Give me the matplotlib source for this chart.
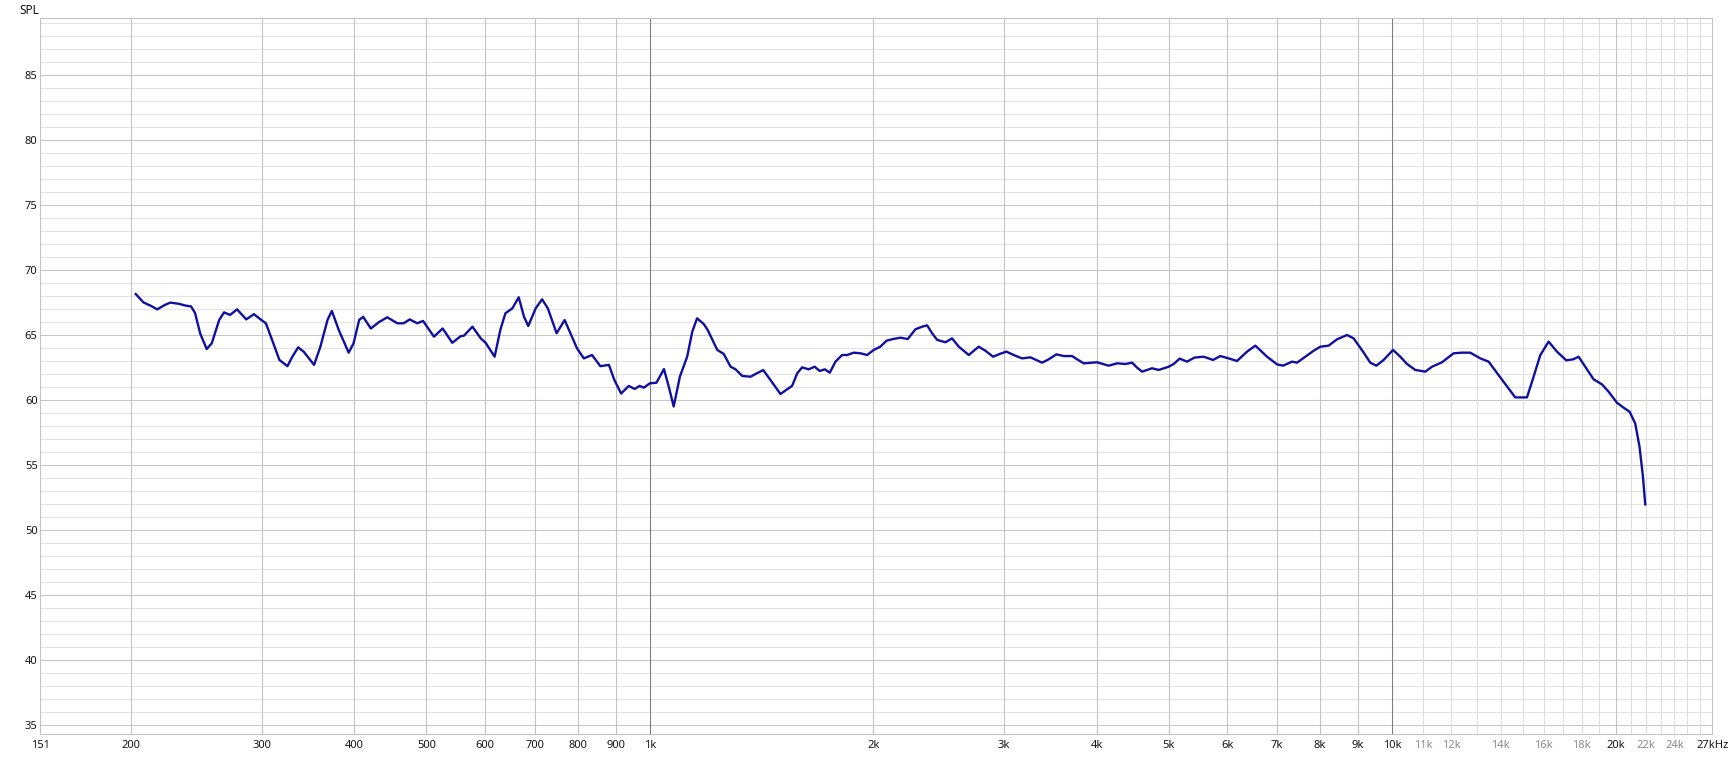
import numpy as np
import matplotlib
matplotlib.use('Agg')
import matplotlib.pyplot as plt

plt.rcParams['font.family'] = ['Noto Sans', 'DejaVu Sans']

# frequency response (Hz, dB SPL)
freq = [203, 208, 213, 217, 222, 226, 232, 237, 241, 244, 248, 253, 257, 263, 267, 272, 278, 286, 293, 299,
        304, 310, 317, 325, 330, 336, 342, 353, 360, 368, 373, 381, 393, 399, 406, 411, 421, 432, 443, 457,
        466, 475, 486, 495, 512, 526, 542, 556, 562, 577, 592, 601, 618, 629, 639, 653, 666, 677, 686, 702,
        716, 729, 749, 768, 780, 798, 815, 836, 858, 881, 896, 915, 937, 954, 969, 982, 1000, 1021, 1045, 1061,
        1077, 1098, 1123, 1141, 1158, 1182, 1197, 1233, 1258, 1285, 1305, 1332, 1367, 1388, 1422, 1454, 1500, 1531, 1555, 1580,
        1604, 1637, 1668, 1694, 1721, 1748, 1779, 1816, 1845, 1883, 1923, 1963, 2003, 2045, 2084, 2127, 2176, 2226, 2280, 2328,
        2364, 2401, 2439, 2502, 2554, 2608, 2690, 2774, 2832, 2901, 2961, 3023, 3092, 3174, 3257, 3377, 3447, 3530, 3611, 3706,
        3764, 3842, 4005, 4152, 4261, 4373, 4464, 4534, 4605, 4750, 4848, 5001, 5079, 5174, 5295, 5415, 5574, 5739, 5870, 6023,
        6182, 6377, 6544, 6785, 6999, 7131, 7333, 7447, 7641, 7841, 8005, 8214, 8431, 8697, 8875, 9138, 9347, 9523, 9742, 10029,
        10257, 10475, 10748, 11084, 11319, 11674, 12101, 12420, 12745, 13147, 13491, 13987, 14654, 15196, 15511, 15836, 16250, 16677, 17165, 17544,
        17834, 18207, 18684, 19176, 19572, 20088, 20504, 20890, 21258, 21545, 21775, 21930]
spl = [68.15, 67.5, 67.23, 66.97, 67.3, 67.49, 67.4, 67.26, 67.2, 66.7, 65.1, 63.92, 64.36, 66.15, 66.74, 66.54, 66.97, 66.2, 66.6, 66.2,
       65.9, 64.6, 63.08, 62.6, 63.33, 64.05, 63.7, 62.7, 64.1, 66.15, 66.85, 65.4, 63.64, 64.36, 66.15, 66.4, 65.5, 66.0, 66.36, 65.9,
       65.9, 66.2, 65.9, 66.08, 64.87, 65.5, 64.4, 64.9, 64.95, 65.64, 64.74, 64.4, 63.33, 65.38, 66.67, 67.05, 67.9, 66.4, 65.69, 67.05,
       67.74, 67.05, 65.13, 66.15, 65.26, 63.97, 63.2, 63.46, 62.6, 62.7, 61.54, 60.5, 61.08, 60.85, 61.08, 60.95, 61.28, 61.33, 62.38, 61.0,
       59.5, 61.8, 63.33, 65.26, 66.28, 65.85, 65.38, 63.85, 63.54, 62.56, 62.36, 61.85, 61.79, 62.0, 62.3, 61.54, 60.46, 60.82, 61.08, 62.05,
       62.51, 62.36, 62.56, 62.23, 62.36, 62.1, 62.95, 63.46, 63.46, 63.64, 63.59, 63.46, 63.85, 64.1, 64.56, 64.69, 64.79, 64.69, 65.44, 65.64,
       65.74, 65.13, 64.62, 64.44, 64.74, 64.1, 63.46, 64.1, 63.79, 63.33, 63.54, 63.72, 63.46, 63.2, 63.28, 62.87, 63.13, 63.51, 63.38, 63.38,
       63.13, 62.82, 62.9, 62.64, 62.82, 62.77, 62.87, 62.49, 62.18, 62.44, 62.31, 62.56, 62.77, 63.18, 62.95, 63.26, 63.33, 63.08, 63.38, 63.2,
       63.0, 63.72, 64.18, 63.33, 62.74, 62.64, 62.95, 62.87, 63.33, 63.79, 64.1, 64.18, 64.67, 65.0, 64.74, 63.72, 62.87, 62.64, 63.08, 63.85,
       63.33, 62.77, 62.31, 62.18, 62.56, 62.9, 63.59, 63.64, 63.64, 63.2, 62.95, 61.74, 60.2, 60.2, 61.79, 63.45, 64.49, 63.72, 63.05, 63.13,
       63.33, 62.56, 61.59, 61.2, 60.64, 59.79, 59.41, 59.1, 58.2, 56.4, 54.1, 51.97]

xticks = [151, 200, 300, 400, 500, 600, 700, 800, 900, 1000, 2000, 3000, 4000, 5000, 6000, 7000, 8000, 9000,
          10000, 11000, 12000, 14000, 16000, 18000, 20000, 22000, 24000, 27000]
xlabels = ["151", "200", "300", "400", "500", "600", "700", "800", "900", "1k", "2k", "3k", "4k", "5k", "6k", "7k",
           "8k", "9k", "10k", "11k", "12k", "14k", "16k", "18k", "20k", "22k", "24k", "27kHz"]
faded = ["11k", "12k", "14k", "16k", "18k", "22k", "24k"]
yticks = [35, 40, 45, 50, 55, 60, 65, 70, 75, 80, 85]


def draw_response(savefile):
    fig = plt.figure(figsize=(17.32, 7.58), dpi=100)
    ax = fig.add_axes([0.02327, 0.03166, 0.96535, 0.94407])
    ax.set_xscale('log')
    ax.set_xlim(151, 27000)
    ax.set_ylim(34.31, 89.35)

    # grid: 1 dB steps, darker every 5 dB
    for v in range(35, 90):
        ax.axhline(v, color='#c6c6c6' if v % 5 == 0 else '#e2e2e2', lw=0.75, zorder=0)
    for f in list(range(200, 1000, 100)) + list(range(2000, 10000, 1000)) + [20000]:
        ax.axvline(f, color='#c2c2c2', lw=0.75, zorder=0)
    for f in [1000, 10000]:
        ax.axvline(f, color='#7c7c7c', lw=0.75, zorder=0)
    for f in list(range(11000, 20000, 1000)) + list(range(21000, 27000, 1000)):
        ax.axvline(f, color='#dcdcdc', lw=0.75, zorder=0)

    ax.plot(freq, spl, color='#1010a0', lw=1.7, solid_joinstyle='round', zorder=3)

    ax.xaxis.set_minor_locator(matplotlib.ticker.NullLocator())
    ax.set_xticks(xticks)
    ax.set_xticklabels(xlabels)
    ax.set_yticks(yticks)
    ax.tick_params(length=0, labelsize=8, labelcolor='#151515')
    ax.tick_params(axis='x', pad=4.5)
    ax.tick_params(axis='y', pad=2)
    for lab in ax.get_xticklabels():
        if lab.get_text() in faded:
            lab.set_color('#8a8a8a')
    for s in ax.spines.values():
        s.set_color('#c2c2c2')
        s.set_linewidth(0.75)

    fig.text(19 / 1732, 1 - 10 / 758, 'SPL', fontsize=8.5, color='#151515', va='center', ha='left')
    fig.savefig(savefile, dpi=100)
    plt.close(fig)


if __name__ == '__main__':
    print(len(freq), len(spl))
    draw_response('out.png')
